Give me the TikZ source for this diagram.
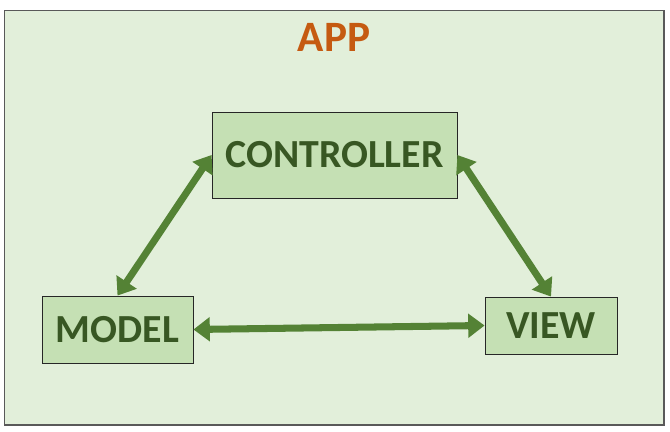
\documentclass[tikz,border=0pt]{standalone}
\usepackage{fontspec}
\setmainfont{Carlito}
\usepackage{xcolor}
\usepackage{tikz}
\usetikzlibrary{positioning,arrows.meta}
\definecolor{ink}{HTML}{385723}
\definecolor{appBg}{HTML}{E2EFDA}
\definecolor{boxBg}{HTML}{C5E0B4}
\definecolor{link}{HTML}{548235}
\definecolor{title}{HTML}{C55A11}
\definecolor{frame}{HTML}{595959}
\tikzset{
  part/.style={draw=black!85, fill=boxBg, line width=0.7pt, inner sep=0pt, font=\bfseries\fontsize{34}{40}\selectfont, text=ink},
  flow/.style={{Triangle[length=14pt,width=20pt]}-{Triangle[length=14pt,width=20pt]}, draw=link, line width=6pt},
}

\begin{document}
\begin{tikzpicture}[x=0.03cm, y=-0.03cm]
\useasboundingbox (0,0) rectangle (670,432);
\draw[frame, fill=appBg, line width=1.2pt] (4.5,10.5) rectangle (664,425);
\node[font=\bfseries\fontsize{37}{44}\selectfont, text=title] (app) at (334,37) {APP};
\node[part, minimum width=7.35cm, minimum height=2.58cm] (ctrl) at (334.5,155) {CONTROLLER};
\node[part, minimum width=4.53cm, minimum height=2.01cm] (model) at (117.5,329.5) {MODEL};
\node[part, minimum width=3.96cm, minimum height=1.71cm] (view) at (551,325.5) {VIEW};
\draw[flow] (model.north) -- (ctrl.west);
\draw[flow] (ctrl.east) -- (view.north);
\draw[flow] (model.east) -- (view.west);
\end{tikzpicture}
\end{document}
